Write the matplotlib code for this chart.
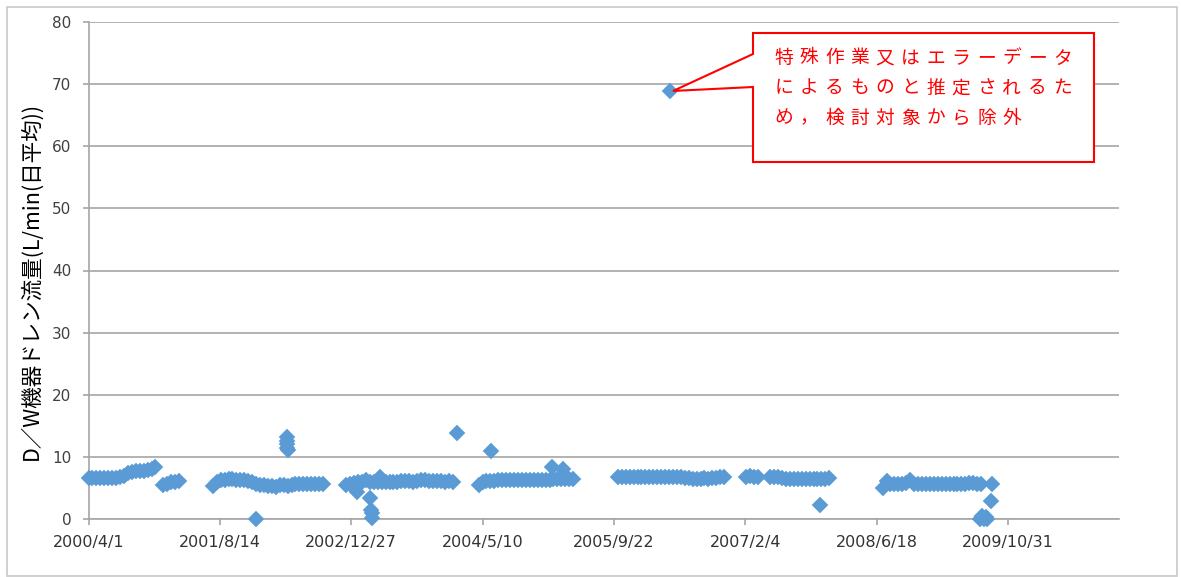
import numpy as np
import pandas as pd
import matplotlib
matplotlib.use('Agg')
import matplotlib.pyplot as plt
import matplotlib.dates as mdates
from matplotlib.patches import Polygon, Rectangle
from matplotlib.transforms import IdentityTransform

plt.rcParams['font.family'] = ['DejaVu Sans', 'Noto Sans CJK JP']

# 日平均流量データ（15日間隔で読取り）
band_a_start = '2000-04-01'
band_a = [6.6, 6.6, 6.6, 6.6, 6.6, 6.6, 6.6, 6.6, 6.7, 7.0, 7.4, 7.6, 7.7, 7.7, 7.8, 7.9, 8.0, 8.3]
band_b_start = '2001-01-10'
band_b = [5.5, 5.6, 5.9, 6.0, 6.1]
band_c_start = '2001-07-18'
band_c = [5.3, 6.0, 6.3, 6.3, 6.4, 6.4, 6.3, 6.3, 6.2, 6.1, 5.9, 5.7, 5.5, 5.4, 5.3,
          5.3, 5.2, 5.4, 5.5, 5.3, 5.5, 5.6, 5.6, 5.7, 5.7, 5.7, 5.7, 5.7, 5.6]
band_d_start = '2002-12-08'
band_d = [5.4, 5.7, 5.8, 5.9, 6.0, 6.2, 6.0, 5.9, 5.9, 6.0, 6.0, 6.0, 6.0, 6.0,
          6.1, 6.1, 6.1, 6.0, 6.1, 6.2, 6.2, 6.1, 6.1, 6.1, 6.1, 6.0, 6.1, 6.0]
band_e_start = '2004-04-25'
band_e = [5.4, 5.9, 6.1, 6.1, 6.1, 6.2, 6.2, 6.2, 6.2, 6.3, 6.3, 6.3, 6.3,
          6.3, 6.3, 6.3, 6.3, 6.3, 6.3, 6.4, 6.4, 6.4, 6.4, 6.5, 6.5]
band_f_start = '2005-10-07'
band_f = [6.8, 6.8, 6.8, 6.8, 6.8, 6.8, 6.8, 6.8, 6.8, 6.8, 6.8, 6.8, 6.8, 6.8,
          6.8, 6.8, 6.8, 6.6, 6.6, 6.5, 6.5, 6.4, 6.6, 6.5, 6.6, 6.6, 6.7, 6.7]
band_g_start = '2007-02-08'
band_g = [6.8, 6.9, 6.8, 6.7]
band_h_start = '2007-05-10'
band_h = [6.8, 6.7, 6.7, 6.6, 6.5, 6.5, 6.5, 6.5, 6.5, 6.5, 6.5, 6.5, 6.5, 6.5, 6.5, 6.6]
band_i_start = '2008-07-11'
band_i = [5.0, 6.1, 5.6, 5.7, 5.6, 5.7, 5.8, 6.2, 5.7, 5.6, 5.6, 5.6, 5.6,
          5.6, 5.6, 5.6, 5.6, 5.6, 5.6, 5.6, 5.7, 5.7, 5.8, 5.8, 5.7, 5.6]

# 個別の点（外れ値など）
spot_dates = ['2001-12-28', '2002-04-25', '2002-04-26', '2002-04-27', '2002-04-28', '2002-04-29',
              '2003-01-18', '2003-03-10', '2003-03-13', '2003-03-15', '2003-03-17', '2003-04-17',
              '2004-02-01', '2004-06-10', '2005-01-28', '2005-03-11',
              '2006-04-24', '2007-11-17',
              '2009-08-31', '2009-08-29', '2009-07-18', '2009-07-25', '2009-08-01',
              '2009-08-07', '2009-08-14']
spot_values = [0.0, 13.2, 12.6, 12.0, 11.5, 11.1,
               4.4, 3.4, 1.5, 1.0, 0.1, 6.8,
               13.8, 11.0, 8.3, 8.0,
               68.9, 2.3,
               5.7, 2.9, 0.0, 0.5, 0.0, 0.3, 0.0]

tick_labels = ['2000/4/1', '2001/8/14', '2002/12/27', '2004/5/10',
               '2005/9/22', '2007/2/4', '2008/6/18', '2009/10/31']
x_end = '2010-12-28'

note_lines = ['特殊作業又はエラーデータ', 'によるものと推定されるた', 'め，検討対象から除外']
ylabel = 'D／W機器ドレン流量(L/min(日平均))'

bands = [(band_a_start, band_a), (band_b_start, band_b), (band_c_start, band_c),
         (band_d_start, band_d), (band_e_start, band_e), (band_f_start, band_f),
         (band_g_start, band_g), (band_h_start, band_h), (band_i_start, band_i)]

W, H = 1181, 577
fig = plt.figure(figsize=(W / 100, H / 100), dpi=100)
ax = fig.add_axes([88.5 / W, (H - 519) / H, (1119 - 88.5) / W, (519 - 22) / H])

blue = '#5B9BD5'
dates_all = []
vals_all = []
for start, vals in bands:
    dates_all += list(pd.date_range(start, periods=len(vals), freq='15D'))
    vals_all += vals
dates_all += list(pd.to_datetime(spot_dates))
vals_all += spot_values

ax.plot(dates_all, vals_all, linestyle='none', marker='D', markersize=7.6,
        color=blue, markeredgecolor=blue, markeredgewidth=1.3, clip_on=False, zorder=3)

# 軸
ax.set_ylim(0, 80)
ax.set_yticks(np.arange(0, 81, 10))
ax.set_xlim(pd.Timestamp('2000-04-01'), pd.Timestamp(x_end))
ax.set_xticks(pd.to_datetime(tick_labels, format='%Y/%m/%d'))
ax.set_xticklabels(tick_labels)
ax.grid(axis='y', color='#A6A6A6', linewidth=1.2)
ax.set_axisbelow(True)
for s in ['top', 'right']:
    ax.spines[s].set_visible(False)
for s in ['left', 'bottom']:
    ax.spines[s].set_color('#A6A6A6')
    ax.spines[s].set_linewidth(1.2)
ax.tick_params(axis='x', direction='out', length=4.5, width=1.2, color='#A6A6A6',
               labelsize=11.5, labelcolor='#333333', pad=7)
ax.tick_params(axis='y', direction='out', length=4.5, width=1.2, color='#A6A6A6',
               labelsize=11, labelcolor='#404040', pad=8)

fig.text(31 / W, 1 - 281 / H, ylabel, rotation=90, ha='center', va='center',
         fontsize=15.5, family=['Noto Sans CJK JP', 'DejaVu Sans'], color='black')

# 吹き出し
fig.canvas.draw()
tip = ax.transData.transform((mdates.date2num(pd.Timestamp('2006-04-24')), 68.9))
bx0, bx1, by0, by1 = 753, 1094, 33, 162
callout = [(bx0, H - by0), (bx1, H - by0), (bx1, H - by1), (bx0, H - by1),
           (bx0, H - 87), (tip[0] + 3, tip[1]), (bx0, H - 54)]
fig.add_artist(Polygon(callout, closed=True, transform=IdentityTransform(),
                       facecolor='white', edgecolor='#FF0000', linewidth=1.5, zorder=5))
for i, line in enumerate(note_lines):
    for j, ch in enumerate(line):
        fig.text((784 + j * 25.3) / W, 1 - (58 + i * 30) / H, ch, ha='center', va='center',
                 fontsize=13.5, color='#FF0000', family=['Noto Sans CJK JP', 'DejaVu Sans'],
                 zorder=6)

# 外枠
fig.add_artist(Rectangle((7, 1), 1170, H - 8, transform=IdentityTransform(),
                         fill=False, edgecolor='#C8C8C8', linewidth=1.2))

fig.savefig('out.png', dpi=100)
